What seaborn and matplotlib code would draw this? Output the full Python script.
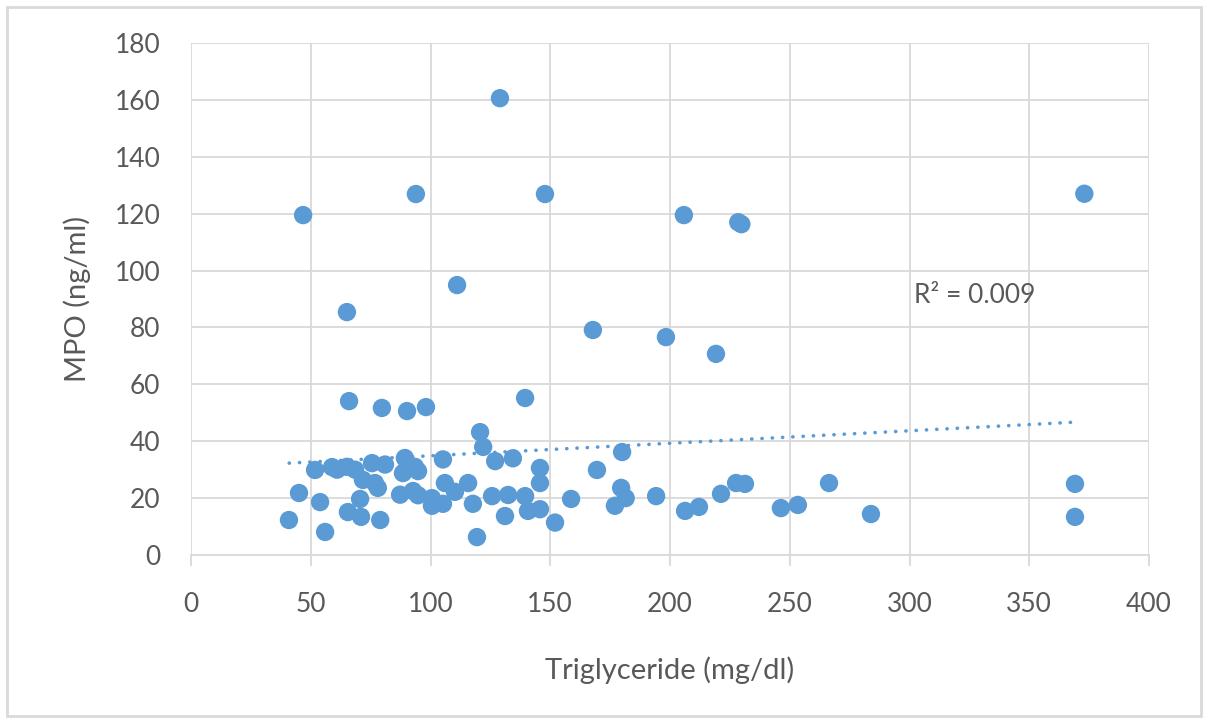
import matplotlib
matplotlib.use("Agg")
import matplotlib.pyplot as plt
from matplotlib.patches import Rectangle
import seaborn as sns
import pandas as pd
import numpy as np

# Data
triglyceride = [129, 46.8, 93.9, 147.8, 205.8, 228.5, 229.8, 373, 111.1, 65.1,
                167.8, 198.3, 219.2, 66, 79.7, 90.2, 98.1, 139.5, 120.7, 122,
                180, 40.9, 45.1, 53.9, 56, 51.8, 58.9, 61, 65.1, 68.5,
                75.6, 81, 71.8, 76.8, 78, 70.6, 65.5, 71, 79, 87.3,
                89.3, 93.5, 88.5, 94.8, 92.7, 94.8, 100.6, 100.6, 105.2, 105.2,
                106, 110.2, 115.7, 117.7, 125.7, 119.4, 127, 134.4, 132.4, 131.1,
                139.5, 140.7, 145.7, 145.7, 145.7, 152, 158.7, 169.5, 179.6, 181.5,
                177, 194.2, 206.3, 212.1, 221.3, 227.6, 231.3, 246.3, 253.4, 266.4,
                283.9, 369.1, 369.1]
mpo = [160.6, 119.5, 126.9, 126.9, 119.5, 117, 116.3, 127, 94.9, 85.4,
       79.1, 76.6, 70.7, 54.1, 51.7, 50.6, 52, 55.2, 43.2, 38,
       36.2, 12.3, 21.8, 18.6, 8.1, 29.9, 30.9, 30, 31, 30,
       32.3, 31.8, 26.4, 25.3, 23.6, 19.7, 15.1, 13.4, 12.3, 21.2,
       34.1, 31, 28.8, 29.5, 22.5, 21, 20, 17.3, 18, 33.6,
       25.3, 22.2, 25.3, 18, 20.7, 6.3, 33, 34, 21.1, 13.7,
       20.7, 15.5, 16.1, 30.6, 25.3, 11.4, 19.7, 29.9, 23.6, 20,
       17.3, 20.7, 15.5, 16.9, 21.5, 25.3, 25, 16.5, 17.6, 25.3,
       14.4, 25, 13.4]
x_ticks = [0, 50, 100, 150, 200, 250, 300, 350, 400]
y_ticks = [0, 20, 40, 60, 80, 100, 120, 140, 160, 180]
r2_label = "R² = 0.009"
# Linear trendline (Excel trendline)
trend_slope = 0.0439
trend_intercept = 30.5
trend_x_range = [41, 371]

df = pd.DataFrame({"Triglyceride": triglyceride, "MPO": mpo})
trend_df = pd.DataFrame({"Triglyceride": trend_x_range})
trend_df["MPO"] = trend_intercept + trend_slope * trend_df["Triglyceride"]

sns.set_theme(style="white")
plt.rcParams['font.family'] = ['Lato', 'DejaVu Sans']

BLUE = "#5B9BD5"
GRID = "#D9D9D9"
TXT = "#595959"

fig = plt.figure(figsize=(12.08, 7.23), dpi=100)
ax = fig.add_axes([191/1208, 1 - 555/723, (1149-191)/1208, (555-43)/723])

sns.scatterplot(data=df, x="Triglyceride", y="MPO", ax=ax, color=BLUE,
                s=175, edgecolor="none", alpha=1, zorder=3)
sns.lineplot(data=trend_df, x="Triglyceride", y="MPO", ax=ax, color=BLUE,
             lw=2.6, linestyle=(0, (0.05, 2.8)), dash_capstyle="round", zorder=4)

ax.set_xlim(0, 400)
ax.set_ylim(0, 180)
ax.set_xticks(x_ticks)
ax.set_yticks(y_ticks)
ax.grid(True, color=GRID, lw=1.3)
ax.set_axisbelow(True)
for s in ["top", "right", "left"]:
    ax.spines[s].set_visible(False)
ax.spines["bottom"].set_color(GRID)
ax.spines["bottom"].set_linewidth(1.3)
ax.tick_params(axis="x", length=8, width=1.3, color=GRID, direction="out",
               pad=19, labelsize=19, labelcolor=TXT, bottom=True)
ax.tick_params(axis="y", length=0, pad=22, labelsize=19, labelcolor=TXT)

ax.set_xlabel("Triglyceride (mg/dl)", fontsize=21, color=TXT, labelpad=28)
ax.set_ylabel("MPO (ng/ml)", fontsize=21, color=TXT, labelpad=17)

ax.text(302, 91.4, r2_label, fontsize=19, color=TXT, va="center", ha="left")

fig.patches.append(Rectangle((7/1208, 7/723), 1 - 14/1208, 1 - 14/723,
                             transform=fig.transFigure, fill=False,
                             edgecolor=GRID, lw=2))

fig.savefig("out.png", dpi=100, facecolor="white")
